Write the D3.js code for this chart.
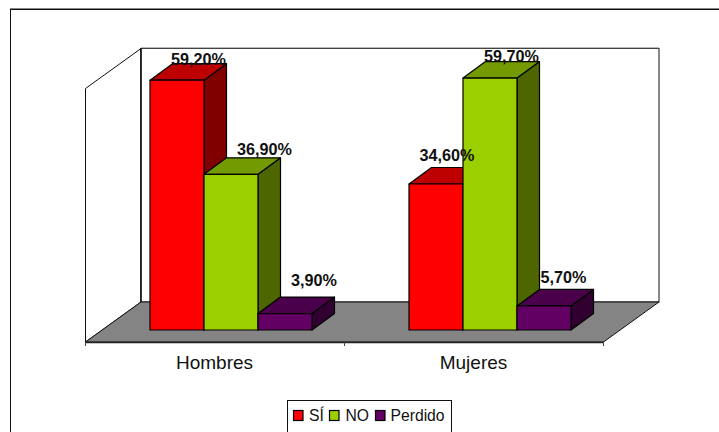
<!DOCTYPE html>
<html><head><meta charset="utf-8">
<script src="https://cdn.jsdelivr.net/npm/d3@7"></script>
<style>html,body{margin:0;padding:0;background:#fff}svg{display:block}text{font-family:"Liberation Sans",Arial,sans-serif;fill:#111}</style>
</head><body><svg id="c" width="719" height="432"></svg>
<script>
const categories = ["Hombres", "Mujeres"];
const seriesNames = ["SÍ", "NO", "Perdido"];
const si = [59.2, 34.6];
const no = [36.9, 59.7];
const perdido = [3.9, 5.7];
const labels = [["59,20%", "34,60%"], ["36,90%", "59,70%"], ["3,90%", "5,70%"]];
const front = ["#ff0000", "#9ccf00", "#630063"];
const topC = ["#bd0000", "#739a00", "#4a004a"];
const side = ["#800000", "#4d6600", "#310031"];
const values = [si, no, perdido];

const svg = d3.select("#c");
const L = 85.5, R = 603.5, floorY = 342, dx = 55.5;
const y = d3.scaleLinear().domain([0, 60]).range([330, 330 - 60 * 4.22]);
const x0 = d3.scaleBand().domain(categories).range([L, R]);
const x1 = d3.scaleBand().domain(d3.range(3)).range([64.5, 64.5 + 162]);
const depthX = 22.5, depthY = -16.5;
// label placement as seen in the reference, relative to each bar's front-top centre
const labelDx = [[21.5, 11], [33.5, 21.5], [29, 19.5]];
const labelDy = [[-15, -22.5], [-19, -16.4], [-28, -23]];
const poly = pts => pts.map(p => p.join(",")).join(" ");

// chart frame
svg.append("rect").attr("x", 10.5).attr("y", 9.5).attr("width", 720).attr("height", 440).attr("fill", "#fff").attr("stroke", "#111");
svg.append("line").attr("x1", 10).attr("x2", 719).attr("y1", 8.5).attr("y2", 8.5).attr("stroke", "#888");

// walls
svg.append("polygon").attr("points", poly([[L, 88.5], [L + dx, 48.5], [L + dx, 302], [L, 342]])).attr("fill", "#fff").attr("stroke", "#111");
svg.append("rect").attr("x", L + dx).attr("y", 48.5).attr("width", R - L).attr("height", 253.5).attr("fill", "#fff").attr("stroke", "#111");
svg.append("line").attr("x1", L + dx).attr("x2", R + dx).attr("y1", 48).attr("y2", 48).attr("stroke", "#777").attr("stroke-width", 1.2);
svg.append("line").attr("x1", L + dx).attr("x2", L + dx).attr("y1", 48).attr("y2", 302).attr("stroke", "#111").attr("stroke-width", 1.4);
// floor
svg.append("polygon").attr("points", poly([[L, floorY], [L + dx, 302], [R + dx, 302], [R, floorY]])).attr("fill", "#848484").attr("stroke", "#111");
const axis = d3.axisBottom(x0).tickSize(0).tickPadding(0).tickFormat("");
const axG = svg.append("g").attr("transform", `translate(0,${floorY})`).call(axis);
axG.select(".domain").attr("stroke", "#222").attr("stroke-width", 1.6);
axG.selectAll(".edge").data([L, (L + R) / 2, R]).join("line").attr("class", "edge")
  .attr("x1", d => d).attr("x2", d => d).attr("y1", 0).attr("y2", 4).attr("stroke", "#444");

// bars
categories.forEach((c, ci) => {
  seriesNames.forEach((s, si_) => {
    const xl = x0(c) + x1(si_), xr = xl + x1.bandwidth(), yt = y(values[si_][ci]), yb = y(0);
    const g = svg.append("g").attr("class", "bar").attr("stroke", "#000").attr("stroke-width", 1.2).attr("stroke-linejoin", "round");
    g.append("polygon").attr("points", poly([[xr, yb], [xr + depthX, yb + depthY], [xr + depthX, yt + depthY], [xr, yt]])).attr("fill", side[si_]);
    g.append("polygon").attr("points", poly([[xl, yt], [xl + depthX, yt + depthY], [xr + depthX, yt + depthY], [xr, yt]])).attr("fill", topC[si_]);
    g.append("rect").attr("x", xl).attr("y", yt).attr("width", xr - xl).attr("height", yb - yt).attr("fill", front[si_]);
  });
});
// data labels
categories.forEach((c, ci) => {
  seriesNames.forEach((s, si_) => {
    const xl = x0(c) + x1(si_), yt = y(values[si_][ci]);
    svg.append("text").attr("x", xl + x1.bandwidth() / 2 + labelDx[si_][ci]).attr("y", yt + labelDy[si_][ci])
      .attr("text-anchor", "middle").attr("font-size", 16.2).attr("font-weight", "bold").text(labels[si_][ci]);
  });
});
// category labels
categories.forEach(c => {
  svg.append("text").attr("x", x0(c) + x0.bandwidth() / 2 - 0.5).attr("y", 368.5).attr("text-anchor", "middle").attr("font-size", 19).text(c);
});
// legend
svg.append("rect").attr("x", 287.5).attr("y", 400.5).attr("width", 164).attr("height", 40).attr("fill", "#fff").attr("stroke", "#111");
const lx = [293.5, 329.5, 375.5];
const tx = [309, 345.5, 390.5];
seriesNames.forEach((s, i) => {
  svg.append("rect").attr("x", lx[i]).attr("y", 410.5).attr("width", 9.5).attr("height", 10).attr("fill", front[i]).attr("stroke", "#000").attr("stroke-width", 1.2);
  svg.append("text").attr("x", tx[i]).attr("y", 420.5).attr("font-size", 15.7).text(s);
});
</script></body></html>
